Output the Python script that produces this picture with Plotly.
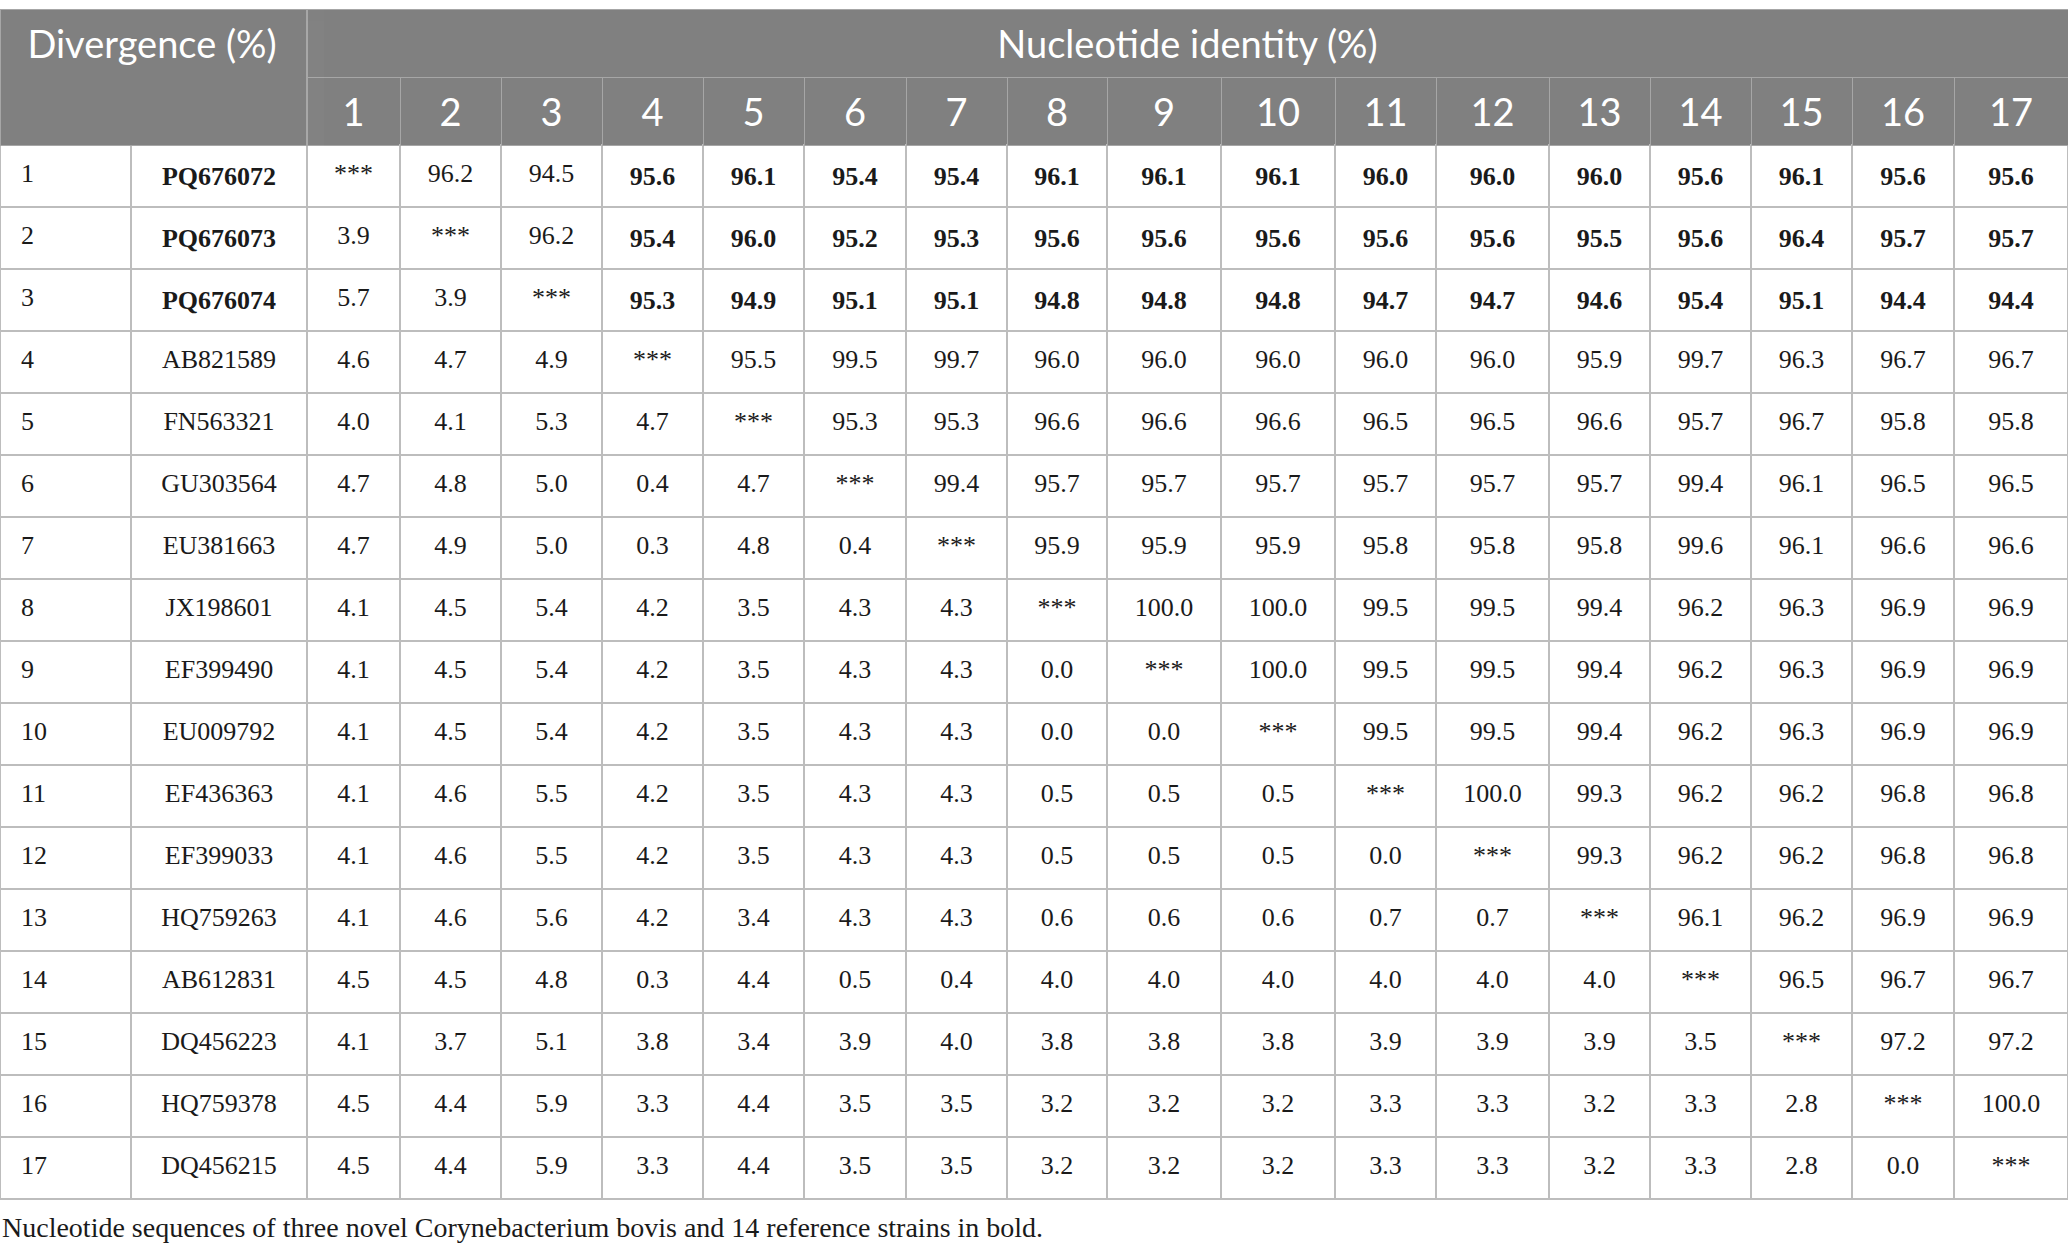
import plotly.graph_objects as go

# row labels
idx = [str(i) for i in range(1, 18)]
strains = ["PQ676072", "PQ676073", "PQ676074", "AB821589", "FN563321", "GU303564",
           "EU381663", "JX198601", "EF399490", "EU009792", "EF436363", "EF399033",
           "HQ759263", "AB612831", "DQ456223", "HQ759378", "DQ456215"]
col_labels = [str(i) for i in range(1, 18)]

# lower triangle = divergence, upper triangle = identity, None = diagonal
r1 = [None, 96.2, 94.5, 95.6, 96.1, 95.4, 95.4, 96.1, 96.1, 96.1, 96.0, 96.0, 96.0, 95.6, 96.1, 95.6, 95.6]
r2 = [3.9, None, 96.2, 95.4, 96.0, 95.2, 95.3, 95.6, 95.6, 95.6, 95.6, 95.6, 95.5, 95.6, 96.4, 95.7, 95.7]
r3 = [5.7, 3.9, None, 95.3, 94.9, 95.1, 95.1, 94.8, 94.8, 94.8, 94.7, 94.7, 94.6, 95.4, 95.1, 94.4, 94.4]
r4 = [4.6, 4.7, 4.9, None, 95.5, 99.5, 99.7, 96.0, 96.0, 96.0, 96.0, 96.0, 95.9, 99.7, 96.3, 96.7, 96.7]
r5 = [4.0, 4.1, 5.3, 4.7, None, 95.3, 95.3, 96.6, 96.6, 96.6, 96.5, 96.5, 96.6, 95.7, 96.7, 95.8, 95.8]
r6 = [4.7, 4.8, 5.0, 0.4, 4.7, None, 99.4, 95.7, 95.7, 95.7, 95.7, 95.7, 95.7, 99.4, 96.1, 96.5, 96.5]
r7 = [4.7, 4.9, 5.0, 0.3, 4.8, 0.4, None, 95.9, 95.9, 95.9, 95.8, 95.8, 95.8, 99.6, 96.1, 96.6, 96.6]
r8 = [4.1, 4.5, 5.4, 4.2, 3.5, 4.3, 4.3, None, 100.0, 100.0, 99.5, 99.5, 99.4, 96.2, 96.3, 96.9, 96.9]
r9 = [4.1, 4.5, 5.4, 4.2, 3.5, 4.3, 4.3, 0.0, None, 100.0, 99.5, 99.5, 99.4, 96.2, 96.3, 96.9, 96.9]
r10 = [4.1, 4.5, 5.4, 4.2, 3.5, 4.3, 4.3, 0.0, 0.0, None, 99.5, 99.5, 99.4, 96.2, 96.3, 96.9, 96.9]
r11 = [4.1, 4.6, 5.5, 4.2, 3.5, 4.3, 4.3, 0.5, 0.5, 0.5, None, 100.0, 99.3, 96.2, 96.2, 96.8, 96.8]
r12 = [4.1, 4.6, 5.5, 4.2, 3.5, 4.3, 4.3, 0.5, 0.5, 0.5, 0.0, None, 99.3, 96.2, 96.2, 96.8, 96.8]
r13 = [4.1, 4.6, 5.6, 4.2, 3.4, 4.3, 4.3, 0.6, 0.6, 0.6, 0.7, 0.7, None, 96.1, 96.2, 96.9, 96.9]
r14 = [4.5, 4.5, 4.8, 0.3, 4.4, 0.5, 0.4, 4.0, 4.0, 4.0, 4.0, 4.0, 4.0, None, 96.5, 96.7, 96.7]
r15 = [4.1, 3.7, 5.1, 3.8, 3.4, 3.9, 4.0, 3.8, 3.8, 3.8, 3.9, 3.9, 3.9, 3.5, None, 97.2, 97.2]
r16 = [4.5, 4.4, 5.9, 3.3, 4.4, 3.5, 3.5, 3.2, 3.2, 3.2, 3.3, 3.3, 3.2, 3.3, 2.8, None, 100.0]
r17 = [4.5, 4.4, 5.9, 3.3, 4.4, 3.5, 3.5, 3.2, 3.2, 3.2, 3.3, 3.3, 3.2, 3.3, 2.8, 0.0, None]
rows = [r1, r2, r3, r4, r5, r6, r7, r8, r9, r10, r11, r12, r13, r14, r15, r16, r17]

novel = 3  # first three strains are the novel ones (bold)

caption = "Nucleotide sequences of three novel Corynebacterium bovis and 14 reference strains in bold."

W, H = 2068, 1256
GREY = "#808080"
HLINE = "#a6a6a6"
BLINE = "#bdbdbd"
CLEAR = "rgba(0,0,0,0)"
SANS = "Lato"
SERIF = "Liberation Serif"
HSIZE = 38
BSIZE = 26

widths = [131, 176, 93, 101, 101, 101, 101, 102, 101, 100, 114, 114, 101, 113, 101, 101, 101, 102, 114]

# plotly tables put text at the top of the cell, so the text is drawn by a
# second transparent table shifted down a bit to centre it like the reference
HSHIFT = 12
BSHIFT = 9


def fmt(v, r, c):
    if v is None:
        return "***"
    s = f"{v:.1f}"
    if r < novel and c >= novel:
        s = "<b>" + s + "</b>"
    return s


columns = [["\u00a0\u00a0" + i for i in idx],
           ["<b>" + s + "</b>" if k < novel else s for k, s in enumerate(strains)]]
for c in range(17):
    columns.append([fmt(rows[r][c], r, c) for r in range(17)])
blank = [[""] * 17 for _ in columns]


def py(px):
    return 1 - px / H


fig = go.Figure()

# ---- grid (fills and lines) ----
fig.add_trace(go.Table(
    domain=dict(x=[0, 1], y=[0, py(77)]),
    columnwidth=widths,
    header=dict(values=[""] * 19, height=68, fill_color=GREY,
                line=dict(color=HLINE, width=1)),
    cells=dict(values=blank, height=62, fill_color="white",
               line=dict(color=BLINE, width=1.5)),
))
fig.add_trace(go.Table(
    domain=dict(x=[307 / W, 1], y=[py(250), py(9)]),
    header=dict(values=[""], height=68, fill_color=GREY,
                line=dict(color=HLINE, width=1)),
    cells=dict(values=[[]]),
))
fig.add_trace(go.Table(
    domain=dict(x=[0, 306 / W], y=[py(250), py(9)]),
    header=dict(values=[""], height=136, fill_color=GREY,
                line=dict(color=HLINE, width=1)),
    cells=dict(values=[[]]),
))

# ---- text ----
fig.add_trace(go.Table(
    domain=dict(x=[0, 1], y=[0, py(77 + HSHIFT)]),
    columnwidth=widths,
    header=dict(values=["", ""] + col_labels, height=68 - HSHIFT + BSHIFT,
                fill_color=CLEAR, line=dict(color=CLEAR), align="center",
                font=dict(family=SANS, size=HSIZE, color="white")),
    cells=dict(values=columns, height=62, fill_color=CLEAR,
               line=dict(color=CLEAR), align=["left"] + ["center"] * 18,
               font=dict(family=SERIF, size=BSIZE, color="#1a1a1a")),
))
fig.add_trace(go.Table(
    domain=dict(x=[307 / W, 1], y=[py(250), py(9 + HSHIFT)]),
    header=dict(values=["Nucleotide identity (%)"], height=60,
                fill_color=CLEAR, line=dict(color=CLEAR), align="center",
                font=dict(family=SANS, size=HSIZE, color="white")),
    cells=dict(values=[[]]),
))
fig.add_trace(go.Table(
    domain=dict(x=[0, 306 / W], y=[py(250), py(9 + HSHIFT)]),
    header=dict(values=["\u00a0\u00a0Divergence (%)"], height=60,
                fill_color=CLEAR, line=dict(color=CLEAR), align="left",
                font=dict(family=SANS, size=HSIZE, color="white")),
    cells=dict(values=[[]]),
))

fig.add_annotation(x=0, y=py(1227), xref="paper", yref="paper", xanchor="left",
                   yanchor="middle", showarrow=False, text=caption,
                   font=dict(family=SERIF, size=28, color="#1a1a1a"))

fig.update_layout(width=W, height=H, margin=dict(l=0, r=0, t=0, b=0),
                  paper_bgcolor="white", plot_bgcolor="white")

fig.write_html("out.html", config={"displayModeBar": False},
               post_script="document.body.style.margin='0';")
